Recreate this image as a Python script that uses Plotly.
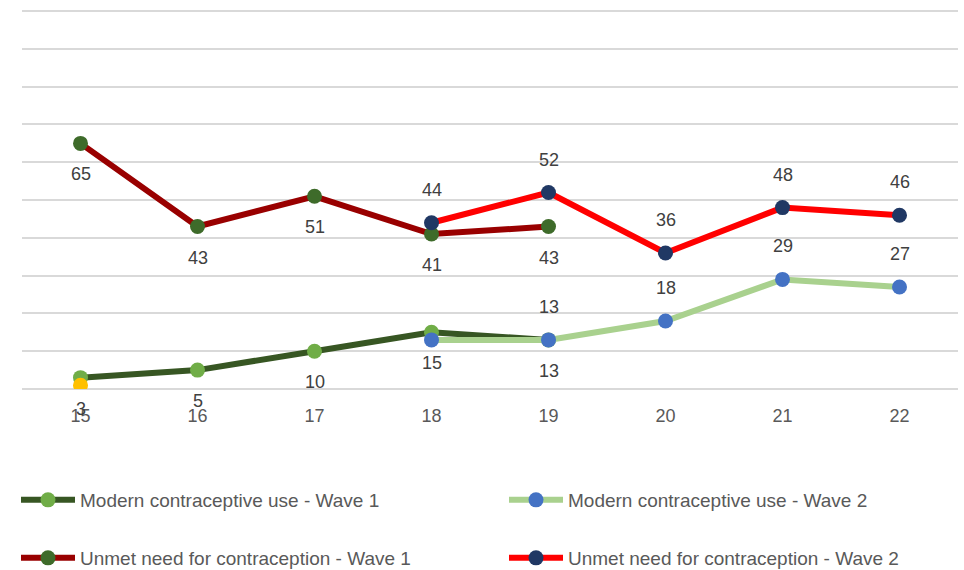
import plotly.graph_objects as go

ages = [15, 16, 17, 18, 19, 20, 21, 22]

# Wave 1 covers ages 15-19, wave 2 covers ages 18-22
w1_ages = [15, 16, 17, 18, 19]
w2_ages = [18, 19, 20, 21, 22]

modern_w1 = [3, 5, 10, 15, 13]
modern_w2 = [13, 13, 18, 29, 27]
unmet_w1 = [65, 43, 51, 41, 43]
unmet_w2 = [44, 52, 36, 48, 46]

extra_age = [15]
extra_val = [1]

# which points carry a value label
modern_w2_labelled = [False, True, True, True, True]

FONT = "Liberation Sans"
LBL = "#404040"

fig = go.Figure()


def add_series(x, y, name, line_color, marker_color, legend):
    fig.add_trace(go.Scatter(
        x=x, y=y, name=name, mode="lines+markers",
        line=dict(color=line_color, width=6),
        marker=dict(color=marker_color, size=15),
        legend=legend,
    ))


add_series(w1_ages, modern_w1, "Modern contraceptive use - Wave 1", "#375623", "#70AD47", "legend")
add_series(w2_ages, modern_w2, "Modern contraceptive use - Wave 2", "#A9D18E", "#4472C4", "legend2")
add_series(w1_ages, unmet_w1, "Unmet need for contraception - Wave 1", "#990000", "#3E6B2A", "legend3")
add_series(w2_ages, unmet_w2, "Unmet need for contraception - Wave 2", "#FF0000", "#203864", "legend4")

fig.add_trace(go.Scatter(
    x=extra_age, y=extra_val, mode="markers",
    marker=dict(color="#FFC000", size=15), showlegend=False,
))

annotations = []


def add_labels(x, y, shift, keep=None):
    for i, (a, v) in enumerate(zip(x, y)):
        if keep is not None and not keep[i]:
            continue
        annotations.append(dict(
            x=a, y=v, text=str(v), showarrow=False, yshift=shift,
            font=dict(family=FONT, size=18, color=LBL),
        ))


add_labels(w1_ages, modern_w1, -31)
add_labels(w1_ages, unmet_w1, -31)
add_labels(w2_ages, modern_w2, 33, modern_w2_labelled)
add_labels(w2_ages, unmet_w2, 33)

legend_style = dict(
    orientation="h", xanchor="left", yanchor="middle",
    xref="container", yref="container",
    font=dict(family=FONT, size=19, color="#595959"),
    bgcolor="rgba(0,0,0,0)", itemwidth=54,
)
col1, col2 = 16 / 964, 504 / 964
row1, row2 = 1 - 500 / 570, 1 - 558 / 570

fig.update_layout(
    width=964, height=570,
    margin=dict(l=22, r=6, t=10, b=181, autoexpand=False),
    plot_bgcolor="white", paper_bgcolor="white",
    font=dict(family=FONT, size=18, color="#595959"),
    annotations=annotations,
    legend=dict(x=col1, y=row1, **legend_style),
    legend2=dict(x=col2, y=row1, **legend_style),
    legend3=dict(x=col1, y=row2, **legend_style),
    legend4=dict(x=col2, y=row2, **legend_style),
    xaxis=dict(
        range=[14.5, 22.5], tickmode="array", tickvals=ages,
        ticktext=[str(a) for a in ages], showgrid=False, zeroline=False,
        showline=False, ticks="", ticklabelstandoff=14,
        tickfont=dict(family=FONT, size=18, color="#595959"),
    ),
    yaxis=dict(
        range=[0, 100.3], tickvals=list(range(0, 101, 10)), showticklabels=False,
        gridcolor="#D9D9D9", gridwidth=1.5, zeroline=True,
        zerolinecolor="#D9D9D9", zerolinewidth=1.5, showline=False,
    ),
)

fig.write_html("out.html")
